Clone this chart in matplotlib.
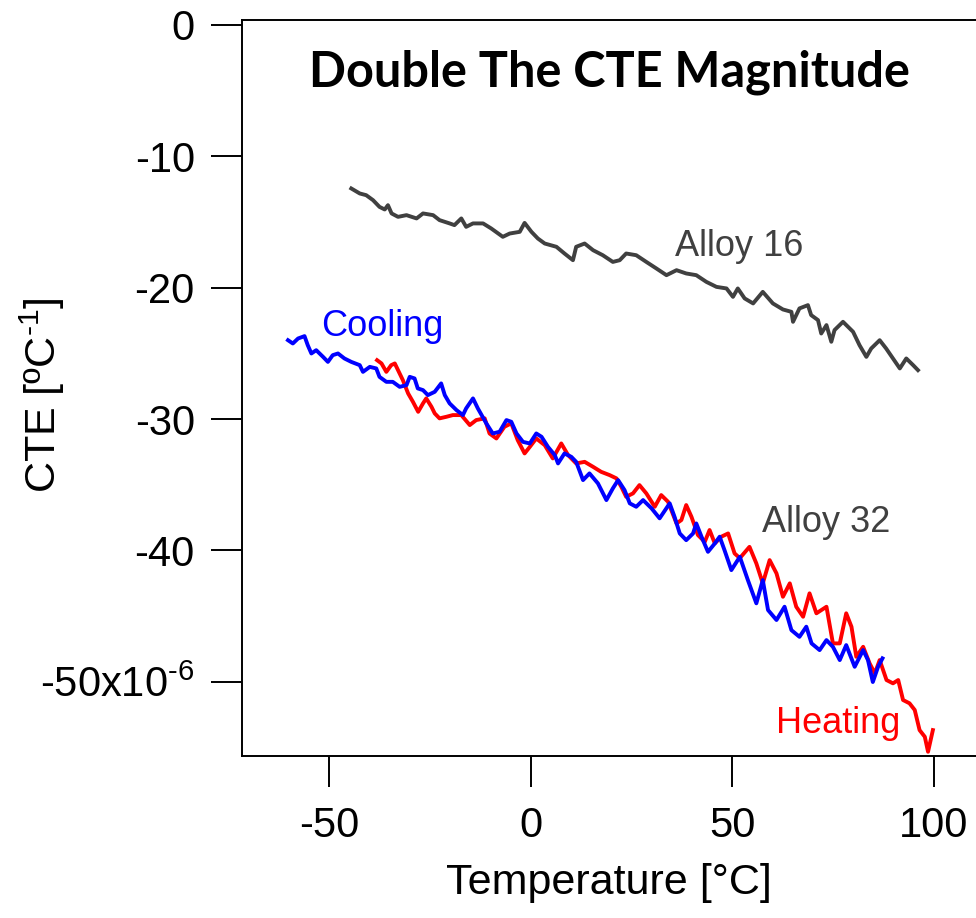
import matplotlib
matplotlib.use("Agg")
import matplotlib.pyplot as plt

plt.rcParams['font.family'] = ['Liberation Sans', 'DejaVu Sans']
plt.rcParams['mathtext.fontset'] = 'custom'
plt.rcParams['mathtext.rm'] = 'Liberation Sans'
plt.rcParams['mathtext.it'] = 'Liberation Sans'

# Alloy 16 (temperature degC, CTE x1e-6 /degC)
alloy16_t = [-44.5, -42.4, -40.8, -39.1, -37.5, -36.2, -35.4, -34.5, -32.9, -30.8, -28.3, -26.7,
             -24.2, -22.6, -20.1, -18.9, -17.2, -16.0, -14.3, -11.8, -9.8, -6.9, -5.2, -2.7, -1.5,
             0.2, 1.8, 3.5, 6.4, 8.4, 10.5, 11.3, 13.4, 15.5, 17.9, 20.4, 22.1, 23.7, 26.2, 28.7,
             31.2, 33.7, 36.2, 38.6, 41.1, 43.6, 46.1, 48.6, 50.2, 51.4, 53.1, 55.2, 57.6, 60.1,
             62.6, 64.7, 65.1, 66.7, 68.8, 69.6, 71.3, 72.1, 73.4, 74.6, 75.4, 77.5, 80.0, 81.6,
             83.3, 84.5, 86.6, 88.2, 89.9, 91.6, 93.2, 94.9, 96.1]
alloy16_cte = [-12.45, -12.83, -12.96, -13.34, -13.85, -14.05, -13.72, -14.35, -14.61, -14.48, -14.73,
               -14.35, -14.48, -14.86, -15.11, -15.24, -14.73, -15.37, -15.11, -15.11, -15.49, -16.13,
               -15.88, -15.75, -15.07, -15.75, -16.26, -16.64, -16.89, -17.40, -17.91, -16.89, -16.64,
               -17.15, -17.53, -18.04, -17.91, -17.40, -17.53, -18.04, -18.54, -19.05, -18.67, -18.92,
               -19.05, -19.56, -19.94, -20.06, -20.70, -20.06, -20.82, -21.20, -20.32, -21.20, -21.66,
               -21.84, -22.60, -21.58, -21.33, -22.09, -22.47, -23.49, -22.85, -24.12, -23.23, -22.60,
               -23.36, -24.38, -25.27, -24.63, -24.00, -24.63, -25.39, -26.15, -25.39, -25.90, -26.28]

# Alloy 32, cooling run
cool_t = [-60.2, -59.0, -57.7, -56.1, -55.3, -54.4, -53.2, -51.5, -50.3, -49.1, -47.8, -46.2, -44.5,
          -42.4, -41.6, -39.9, -38.3, -37.5, -35.8, -34.2, -32.5, -30.8, -30.0, -28.8, -28.0, -26.7,
          -25.5, -23.8, -22.2, -21.3, -20.1, -18.4, -16.8, -16.0, -14.3, -13.1, -11.0, -9.4, -7.7,
          -6.0, -4.8, -3.5, -1.9, -0.2, 1.4, 2.7, 4.3, 6.0, 6.8, 8.4, 10.1, 11.3, 13.0, 14.6, 16.7,
          18.8, 20.4, 21.7, 23.3, 24.6, 26.2, 27.9, 30.0, 32.0, 34.5, 35.7, 37.0, 38.6, 40.3, 41.1,
          42.4, 44.0, 45.7, 46.9, 48.1, 49.8, 51.9, 53.9, 56.0, 57.6, 58.9, 61.0, 63.0, 64.7, 66.7,
          68.4, 69.7, 71.7, 73.4, 75.0, 76.7, 78.3, 80.4, 82.5, 83.7, 84.9, 86.2, 87.3]
cool_cte = [-24.00, -24.25, -23.87, -23.69, -24.38, -25.01, -24.76, -25.27, -25.65, -25.14, -25.01,
            -25.39, -25.65, -25.90, -26.41, -26.03, -26.15, -26.79, -27.17, -27.17, -27.55, -27.42,
            -26.79, -26.91, -27.67, -27.80, -28.18, -27.93, -27.29, -28.18, -28.81, -29.32, -29.70,
            -29.19, -28.43, -29.19, -30.33, -31.10, -30.97, -30.08, -30.21, -31.10, -31.74, -31.86,
            -31.10, -31.35, -32.12, -32.75, -33.38, -32.62, -32.88, -33.26, -34.65, -34.14, -34.90,
            -36.17, -35.28, -34.65, -35.41, -36.42, -36.68, -36.17, -36.80, -37.56, -36.42, -37.44,
            -38.71, -39.22, -38.71, -37.95, -38.96, -40.11, -39.47, -38.96, -39.98, -41.50, -40.49,
            -42.26, -44.03, -42.26, -44.54, -45.30, -44.29, -46.07, -46.58, -45.81, -47.08, -47.59,
            -46.83, -47.34, -48.35, -47.21, -48.86, -47.59, -48.35, -50.02, -48.86, -48.22]

# Alloy 32, heating run
heat_t = [-38.1, -37.0, -35.8, -34.6, -33.7, -32.9, -31.7, -30.4, -29.2, -27.9, -26.7, -25.9, -24.6,
          -23.8, -22.6, -20.9, -19.3, -17.2, -15.1, -13.5, -11.4, -10.2, -8.5, -6.5, -4.8, -3.2, -1.5,
          -0.2, 1.4, 3.5, 5.5, 7.6, 9.3, 11.3, 13.4, 15.5, 17.5, 19.6, 21.3, 22.5, 23.7, 25.4, 27.0,
          28.7, 30.8, 32.4, 34.1, 36.2, 37.4, 38.6, 39.9, 41.5, 43.2, 44.4, 45.7, 47.3, 49.0, 50.6,
          51.9, 54.3, 56.0, 57.6, 59.3, 61.0, 62.6, 64.3, 65.9, 67.6, 69.2, 70.9, 73.4, 75.0, 76.7,
          78.3, 79.6, 80.8, 82.5, 84.1, 85.4, 86.6, 88.3, 89.9, 91.2, 92.4, 94.0, 95.3, 96.5, 97.8,
          98.6, 99.8]
heat_cte = [-25.52, -25.77, -26.41, -25.90, -25.77, -26.28, -27.04, -28.05, -28.69, -29.45, -28.81,
            -28.43, -29.07, -29.57, -29.95, -29.83, -29.70, -29.70, -30.46, -30.08, -29.95, -31.10,
            -31.48, -30.59, -30.33, -31.61, -32.62, -32.12, -31.48, -31.99, -33.00, -31.86, -32.75,
            -33.38, -33.26, -33.64, -34.02, -34.27, -34.52, -35.16, -35.92, -35.66, -35.03, -35.66,
            -36.68, -35.79, -36.30, -37.95, -37.69, -36.55, -37.44, -38.83, -39.35, -38.45, -39.47,
            -38.96, -38.71, -40.23, -40.59, -39.73, -40.99, -42.51, -40.74, -41.75, -43.53, -42.51,
            -44.29, -45.05, -43.27, -44.79, -44.29, -47.08, -47.08, -44.79, -45.81, -48.10, -47.34,
            -48.60, -49.36, -48.35, -49.87, -50.12, -49.87, -51.39, -51.64, -52.15, -53.68, -54.19,
            -55.33, -53.68]

x_ticks = [-50, 0, 50, 100]
y_ticks = [-50, -40, -30, -20, -10, 0]
y_ticklabels = [r'-50x10$^{\text{-6}}$', '-40', '-30', '-20', '-10', '0']

fig = plt.figure(figsize=(9.76, 9.18), dpi=100)
ax = fig.add_axes([0.248, 0.1765, 0.752, 0.8015])

lw = 2.8
ax.plot(alloy16_t, alloy16_cte, color='#404040', lw=lw)
ax.plot(heat_t, heat_cte, color='#ff0000', lw=lw)
ax.plot(cool_t, cool_cte, color='#0000ff', lw=lw)

ax.set_xlim(-71.6, 110.5)
ax.set_ylim(-55.65, 0.36)
ax.set_xticks(x_ticks)
ax.set_xticklabels([str(v) for v in x_ticks])
ax.set_yticks(y_ticks)
ax.set_yticklabels(y_ticklabels)
ax.tick_params(direction='out', length=22, width=1.4, labelsize=30, color='black')
ax.tick_params(axis='x', pad=14)
ax.tick_params(axis='y', pad=12)
for s in ['left', 'bottom', 'top']:
    ax.spines[s].set_linewidth(1.4)
ax.spines['right'].set_visible(False)

ax.set_xlabel('Temperature [°C]', fontsize=31, labelpad=12)
ax.set_ylabel(r'CTE [ºC$^{\text{-1}}$]', fontsize=31)
ax.yaxis.set_label_coords(-0.238, 0.49)

ax.text(0.5, 0.91, 'Double The CTE Magnitude', transform=ax.transAxes, ha='center', va='baseline',
        fontsize=35, fontweight='bold', family=['Lato', 'DejaVu Sans'])
ax.text(35.7, -17.6, 'Alloy 16', color='#404040', fontsize=26, ha='left', va='baseline')
ax.text(57.3, -38.6, 'Alloy 32', color='#404040', fontsize=26, ha='left', va='baseline')
ax.text(-51.9, -23.7, 'Cooling', color='#0000ff', fontsize=26, ha='left', va='baseline')
ax.text(61.0, -53.9, 'Heating', color='#ff0000', fontsize=26, ha='left', va='baseline')

fig.savefig('out.png', dpi=100)
